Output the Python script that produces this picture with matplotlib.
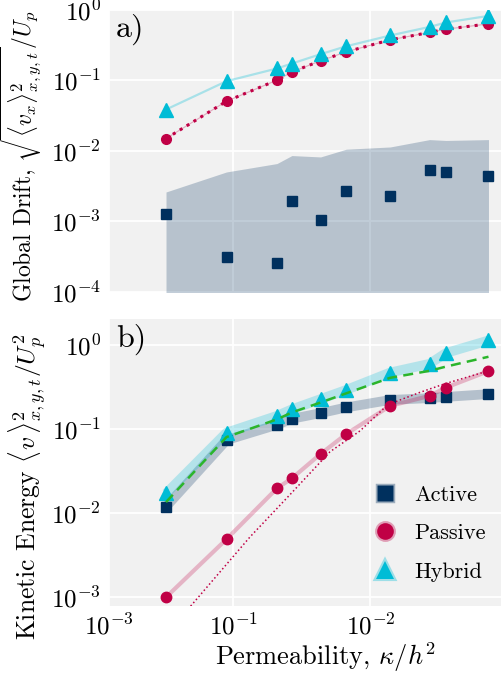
import numpy as np
import matplotlib.pyplot as plt
from matplotlib.lines import Line2D
from matplotlib.colors import to_rgba

plt.rcParams['font.family'] = 'cmr10'
plt.rcParams['mathtext.fontset'] = 'cm'
plt.rcParams['axes.unicode_minus'] = False
plt.rcParams['axes.formatter.use_mathtext'] = True

# permeability of each run
perm = [2.73e-3, 7.93e-3, 0.0193, 0.0251, 0.0416, 0.0655, 0.142, 0.284, 0.379, 0.802]

# a) global drift
drift_active = [1.29e-3, 3.1e-4, 2.61e-4, 1.98e-3, 1.04e-3, 2.75e-3, 2.28e-3, 5.33e-3, 4.99e-3, 4.42e-3]
drift_active_upper = [2.62e-3, 5.04e-3, 6.63e-3, 8.61e-3, 8.23e-3, 1.06e-2, 1.14e-2, 1.45e-2, 1.41e-2, 1.45e-2]
drift_passive = [0.0150, 0.0508, 0.101, 0.132, 0.190, 0.255, 0.377, 0.480, 0.534, 0.635]
drift_hybrid = [0.0387, 0.0977, 0.148, 0.174, 0.236, 0.306, 0.435, 0.575, 0.665, 0.824]

# b) kinetic energy
ke_active = [0.0119, 0.0736, 0.112, 0.132, 0.154, 0.180, 0.221, 0.232, 0.240, 0.259]
ke_passive = [1.0e-3, 4.9e-3, 0.0197, 0.0259, 0.0504, 0.0871, 0.188, 0.247, 0.310, 0.486]
ke_hybrid = [0.0171, 0.0903, 0.143, 0.171, 0.226, 0.291, 0.468, 0.594, 0.797, 1.125]
ke_sum = [0.0135, 0.080, 0.130, 0.157, 0.206, 0.265, 0.405, 0.49, 0.55, 0.72]

# passive model curve
model_perm = [3.82e-3, 4.29e-3, 0.0120, 0.0243, 0.0491, 0.0834, 0.136, 0.240, 0.372, 0.782]
model_ke = [6.68e-4, 8.1e-4, 5.21e-3, 0.0166, 0.0535, 0.0948, 0.194, 0.272, 0.344, 0.484]

xtick_vals = [1e-3, 8.9e-3, 1e-1]
xtick_labels = ['$10^{-3}$', '$10^{-1}$', '$10^{-2}$']

navy = '#00305e'
crimson = '#c00045'
cyan = '#00bcd6'
green = '#2bb52b'
bg = '#f1f1f1'

fig = plt.figure(figsize=(5.01, 6.79), dpi=100)
ax1 = fig.add_axes([0.2176, 0.5700, 0.7824, 0.4153])
ax2 = fig.add_axes([0.2176, 0.1080, 0.7824, 0.4222])

for ax in (ax1, ax2):
    ax.set_facecolor(bg)
    ax.set_xscale('log')
    ax.set_yscale('log')
    ax.set_xlim(1e-3, 1.0)
    ax.minorticks_off()
    ax.set_xticks(xtick_vals)
    ax.set_xticklabels(xtick_labels)
    ax.grid(True, color='white', linewidth=1.3)
    ax.set_axisbelow(True)
    for s in ax.spines.values():
        s.set_visible(False)
    ax.tick_params(length=0, labelsize=18, pad=6)

# panel a
ax1.fill_between(perm, 1e-6, drift_active_upper, color=navy, alpha=0.24, linewidth=0)
ax1.plot(perm, drift_active, 's', color=navy, ms=6.5)
ax1.plot(perm, drift_passive, '-', color=crimson, alpha=0.3, lw=0.8)
ax1.plot(perm, drift_passive, ':', color=crimson, lw=2.2)
ax1.plot(perm, drift_passive, 'o', color=crimson, ms=7)
ax1.plot(perm, drift_hybrid, '-', color=cyan, alpha=0.3, lw=1.6)
ax1.plot(perm, drift_hybrid, '^', color=cyan, ms=9.5)
ax1.set_ylim(1e-4, 1e0)
ax1.set_yticks([1e-4, 1e-3, 1e-2, 1e-1, 1e0])
ax1.set_yticklabels(['$10^{-4}$', '$10^{-3}$', '$10^{-2}$', '$10^{-1}$', '$10^{0}$'])
ax1.tick_params(labelbottom=False)
ax1.set_ylabel(r'Global Drift, $\sqrt{\langle v_x\rangle^2_{x,y,t}}/U_p$', fontsize=17)
ax1.yaxis.set_label_coords(-0.165, 0.48)
ax1.text(0.018, 0.985, 'a)', transform=ax1.transAxes, fontsize=23, va='top', ha='left')

# panel b
ax2.plot(perm, ke_active, '-', color=navy, alpha=0.25, lw=7, solid_capstyle='butt')
ax2.plot(perm, ke_passive, '-', color=crimson, alpha=0.25, lw=3)
ax2.plot(perm, ke_hybrid, '-', color=cyan, alpha=0.25, lw=7, solid_capstyle='butt')
ax2.plot(model_perm, model_ke, ':', color=crimson, lw=1.1)
ax2.plot(perm, ke_active, 's', color=navy, ms=7)
ax2.plot(perm, ke_passive, 'o', color=crimson, ms=7.5)
ax2.plot(perm, ke_hybrid, '^', color=cyan, ms=9.5)
ax2.plot(perm, ke_sum, '--', color=green, lw=1.8, dashes=(4, 2.5))
ax2.set_ylim(10 ** -3.1, 10 ** 0.306)
ax2.set_yticks([1e-3, 1e-2, 1e-1, 1e0])
ax2.set_yticklabels(['$10^{-3}$', '$10^{-2}$', '$10^{-1}$', '$10^{0}$'])
ax2.set_ylabel(r'Kinetic Energy $\langle v\,\rangle^2_{x,y,t}/U_p^2$', fontsize=18.5)
ax2.yaxis.set_label_coords(-0.152, 0.414)
ax2.set_xlabel(r'Permeability, $\kappa/h^2$', fontsize=19)
ax2.xaxis.set_label_coords(0.553, -0.12)
ax2.text(0.018, 0.985, 'b)', transform=ax2.transAxes, fontsize=23, va='top', ha='left')

handles = [
    Line2D([], [], ls='none', marker='s', ms=11, mfc=navy, mec=to_rgba(navy, 0.35), mew=2.5),
    Line2D([], [], ls='none', marker='o', ms=12, mfc=crimson, mec=to_rgba(crimson, 0.35), mew=3),
    Line2D([], [], ls='none', marker='^', ms=13, mfc=cyan, mec=to_rgba(cyan, 0.35), mew=3),
]
ax2.legend(handles, ['Active', 'Passive', 'Hybrid'], loc='lower right', frameon=False,
           fontsize=16, handletextpad=0.3, labelspacing=0.85, borderaxespad=0.3,
           bbox_to_anchor=(1.0, 0.03))

fig.savefig('out.png', dpi=100)
